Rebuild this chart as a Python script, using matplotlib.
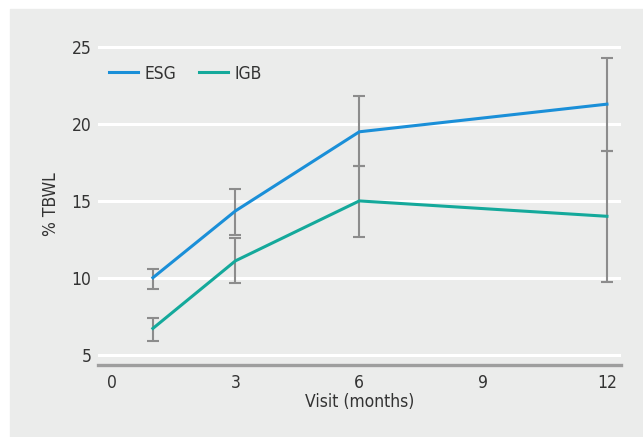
import matplotlib
matplotlib.use("Agg")
import matplotlib.pyplot as plt
from matplotlib.patches import Rectangle

# data
months = [1, 3, 6, 12]
esg = [10.0, 14.35, 19.5, 21.3]
esg_lo = [9.25, 12.75, 17.25, 18.25]
esg_hi = [10.6, 15.8, 21.8, 24.3]
igb = [6.7, 11.1, 15.0, 14.0]
igb_lo = [5.85, 9.65, 12.65, 9.75]
igb_hi = [7.4, 12.6, 17.25, 18.25]

xticks = [0, 3, 6, 9, 12]
yticks = [5, 10, 15, 20, 25]

bg = "#ebeceb"
blue = "#1a8fd8"
teal = "#14a99b"
errc = "#8c8c8c"

plt.rcParams['font.family'] = ['DejaVu Sans']
plt.rcParams['font.stretch'] = 'condensed'

fig = plt.figure(figsize=(6.43, 4.37), dpi=100)
fig.patches.append(Rectangle((10 / 643, 0), 1, (437 - 9) / 437,
                             transform=fig.transFigure, color=bg, zorder=-10))

ax = fig.add_axes([98.4 / 643, 1 - 365.3 / 437, (621.4 - 98.4) / 643, (365.3 - 42.7) / 437])
ax.set_facecolor(bg)

ax.set_xlim(-0.32, 12.35)
ax.set_ylim(4.3, 25.3)

for y in yticks:
    ax.axhline(y, color="white", lw=2.2, zorder=1)

def bars(vals, lo, hi):
    yerr = [[v - l for v, l in zip(vals, lo)], [h - v for v, h in zip(vals, hi)]]
    ax.errorbar(months, vals, yerr=yerr, fmt="none", ecolor=errc, elinewidth=1.5,
                capsize=4, capthick=1.5, zorder=2)

bars(esg, esg_lo, esg_hi)
bars(igb, igb_lo, igb_hi)
ax.plot(months, esg, color=blue, lw=2.2, label="ESG", zorder=3)
ax.plot(months, igb, color=teal, lw=2.2, label="IGB", zorder=3)

for s in ["top", "right", "left"]:
    ax.spines[s].set_visible(False)
ax.spines["bottom"].set_color("#9e9e9e")
ax.spines["bottom"].set_linewidth(2.4)

ax.set_xticks(xticks)
ax.set_yticks(yticks)
ax.tick_params(length=0, labelsize=12.5, colors="#333333", pad=6)
ax.tick_params(axis="y", pad=5)

ax.set_xlabel("Visit (months)", fontsize=12.5, color="#333333", labelpad=1)
ax.set_ylabel("% TBWL", fontsize=12.5, color="#333333", labelpad=8)

leg = ax.legend(loc="upper left", ncol=2, frameon=False, fontsize=12.5,
                handlelength=1.65, handletextpad=0.4, columnspacing=1.3,
                bbox_to_anchor=(-0.003, 0.97), borderaxespad=0.3)
for t in leg.get_texts():
    t.set_color("#333333")

fig.savefig("out.png", dpi=100)
